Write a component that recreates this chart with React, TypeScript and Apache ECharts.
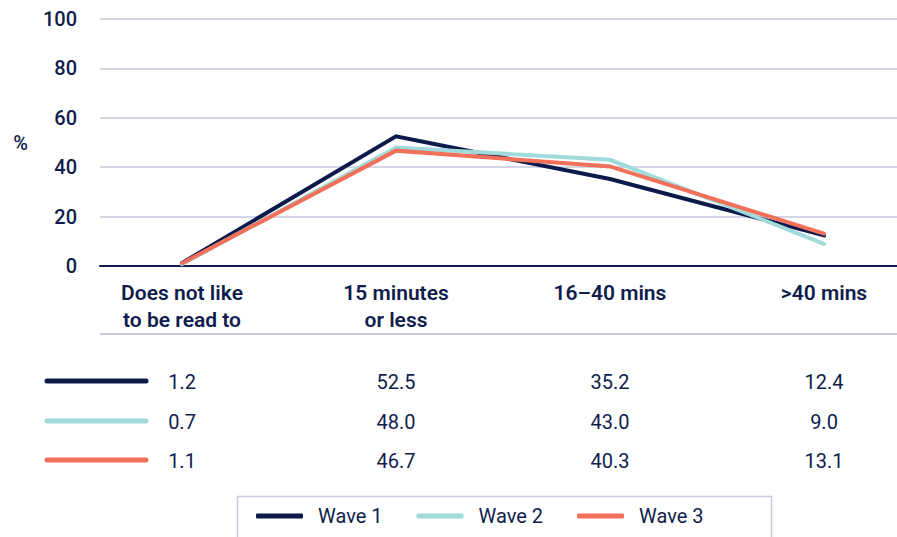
import React, { useEffect, useRef } from "react";
import * as echarts from "echarts";

const categories = ["Does not like\nto be read to", "15 minutes\nor less", "16–40 mins", ">40 mins"];
const seriesNames = ["Wave 1", "Wave 2", "Wave 3"];
const wave1 = [1.2, 52.5, 35.2, 12.4];
const wave2 = [0.7, 48.0, 43.0, 9.0];
const wave3 = [1.1, 46.7, 40.3, 13.1];
const colors = ["#0b1a4b", "#a0dadb", "#f2705a"];

const NAVY = "#0f1d4d";
const GRID = "#c5c9dd";
const FONT = "Roboto";

export default function App() {
  const ref = useRef<HTMLDivElement>(null);
  useEffect(() => {
    if (!ref.current) return;
    const chart = echarts.init(ref.current, undefined, { renderer: "svg" });
    const allSeries = [wave1, wave2, wave3];
    const rowOffsets = [105, 145, 184];
    const rowY = [381, 421, 460];

    const tableAxes = allSeries.map((vals, i) => ({
      type: "category",
      gridIndex: 1,
      position: "bottom",
      offset: rowOffsets[i],
      data: vals.map((v) => v.toFixed(1)),
      axisLine: { show: false },
      axisTick: { show: false },
      splitLine: { show: false },
      axisLabel: {
        margin: 0,
        color: NAVY,
        fontFamily: FONT,
        fontSize: 20,
        lineHeight: 22,
        interval: 0,
      },
    }));

    chart.setOption({
      animation: false,
      grid: [
        { left: 100, right: 0, top: 19, height: 247, outerBoundsMode: "none", containLabel: false },
        { left: 75, width: 856, top: 19, height: 247, outerBoundsMode: "none", containLabel: false },
      ],
      legend: {
        data: seriesNames,
        left: 256,
        top: 506,
        padding: 0,
        icon: "roundRect",
        itemWidth: 47,
        itemHeight: 5,
        itemGap: 34,
        textStyle: { color: NAVY, fontFamily: FONT, fontSize: 20, padding: [0, 0, 0, 10] },
      },
      xAxis: [
        {
          type: "category",
          gridIndex: 0,
          data: categories,
          axisLine: { show: true, lineStyle: { color: NAVY, width: 2 } },
          axisTick: { show: false },
          axisLabel: { show: false },
          splitLine: { show: false },
        },
        {
          type: "category",
          gridIndex: 1,
          data: categories,
          boundaryGap: true,
          axisLine: { show: false },
          axisTick: { show: false },
          splitLine: { show: false },
          axisLabel: {
            margin: 13,
            interval: 0,
            color: NAVY,
            fontFamily: FONT,
            fontWeight: 600,
            fontSize: 21,
            lineHeight: 27,
          },
        },
        ...tableAxes,
      ],
      yAxis: [
        {
          type: "value",
          gridIndex: 0,
          min: 0,
          max: 100,
          interval: 20,
          name: "%",
          nameLocation: "middle",
          nameRotate: 0,
          nameGap: 72,
          nameTextStyle: { color: NAVY, fontFamily: FONT, fontSize: 20, fontWeight: 500 },
          axisLine: { show: false },
          axisTick: { show: false },
          axisLabel: { margin: 23, color: NAVY, fontFamily: FONT, fontSize: 20, fontWeight: 500 },
          splitLine: { show: true, lineStyle: { color: GRID, width: 1.5 } },
        },
        {
          type: "value",
          gridIndex: 1,
          min: 0,
          max: 100,
          interval: 20,
          show: false,
        },
      ],
      series: allSeries.map((vals, i) => ({
        name: seriesNames[i],
        type: "line",
        xAxisIndex: 1,
        yAxisIndex: 1,
        data: vals,
        symbol: "none",
        lineStyle: { color: colors[i], width: 4, cap: "round", join: "miter" },
        itemStyle: { color: colors[i] },
      })),
      graphic: [
        {
          type: "line",
          shape: { x1: 100, y1: 334, x2: 897, y2: 334 },
          style: { stroke: GRID, lineWidth: 2 },
        },
        {
          type: "rect",
          shape: { x: 237.5, y: 496.5, width: 534, height: 50 },
          style: { fill: "none", stroke: GRID, lineWidth: 1.5 },
          z: -1,
        },
        ...rowY.map((y, i) => ({
          type: "line",
          shape: { x1: 47, y1: y, x2: 146, y2: y },
          style: { stroke: colors[i], lineWidth: 5, lineCap: "round" },
        })),
      ],
    });
    return () => chart.dispose();
  }, []);
  return (
    <div
      ref={ref}
      style={{ position: "fixed", left: 0, top: 0, width: 897, height: 537, background: "#fff" }}
    />
  );
}
